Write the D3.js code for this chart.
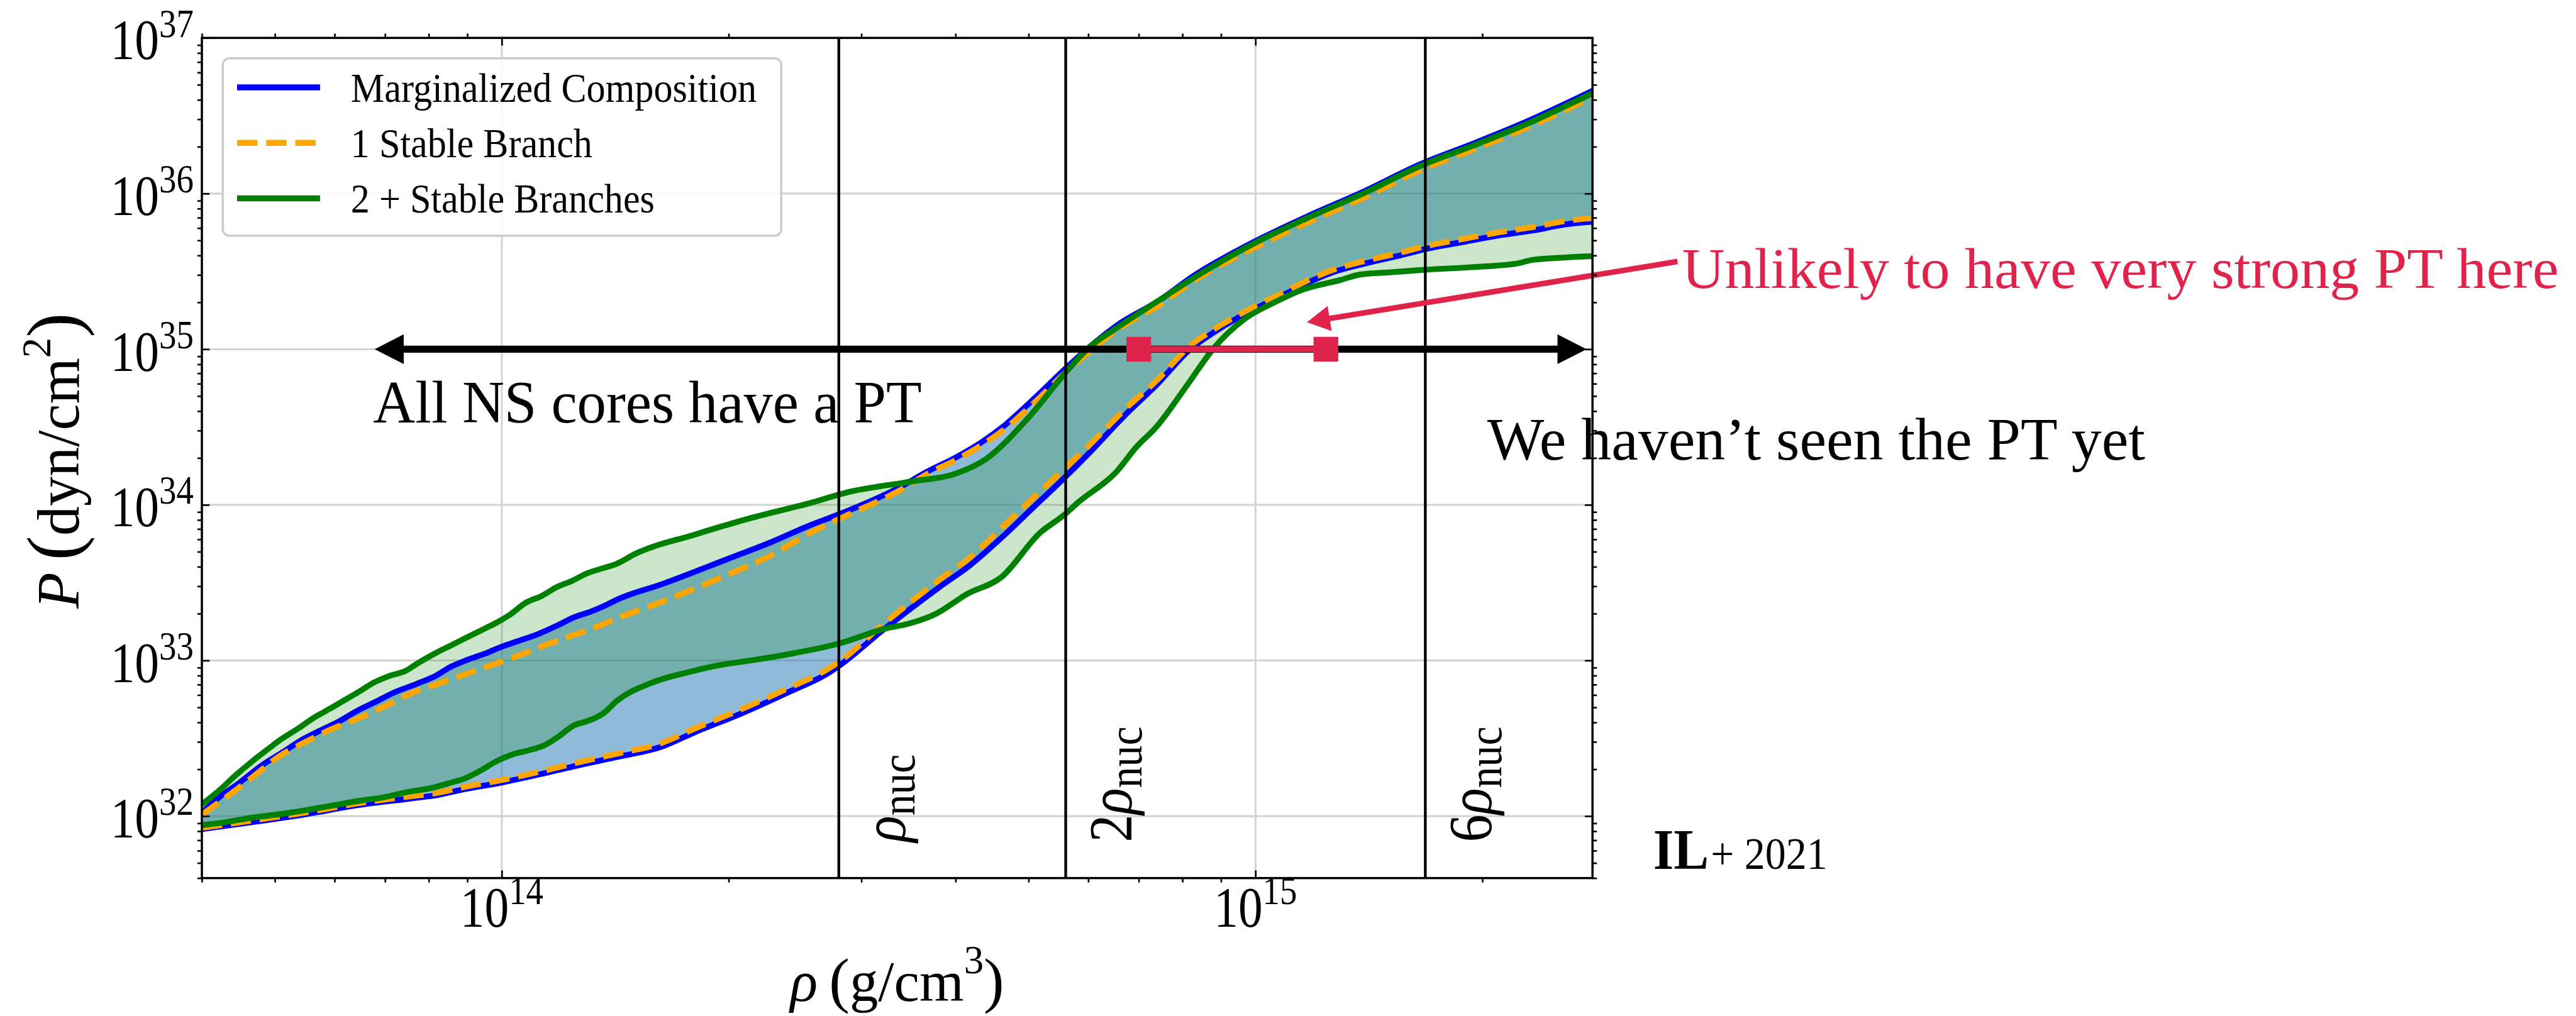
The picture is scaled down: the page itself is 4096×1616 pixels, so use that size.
<!DOCTYPE html>
<html>
<head>
<meta charset="utf-8">
<script src="https://cdn.jsdelivr.net/npm/d3@7"></script>
<style>
  html, body { margin: 0; padding: 0; background: #fff; overflow: hidden; }
  text { font-family: "Liberation Serif", "Times New Roman", serif; }
</style>
</head>
<body>
<svg id="chart"></svg>
<script>
// ---------------------------------------------------------------------------
// Pressure–density bands, values stored as [log10 rho (g/cm^3), log10 P (dyn/cm^2)]
// ---------------------------------------------------------------------------
const margUpperLog = [
  [13.602,32.020],[13.625,32.122],[13.650,32.208],[13.682,32.328],[13.710,32.413],[13.738,32.499],
  [13.759,32.550],[13.781,32.601],[13.809,32.679],[13.834,32.738],[13.855,32.790],[13.887,32.850],
  [13.912,32.901],[13.933,32.961],[13.954,33.004],[13.979,33.047],[14.000,33.089],[14.021,33.124],
  [14.046,33.166],[14.074,33.226],[14.096,33.278],[14.117,33.312],[14.138,33.355],[14.152,33.389],
  [14.214,33.493],[14.299,33.651],[14.359,33.764],[14.407,33.865],[14.450,33.944],[14.528,34.113],
  [14.565,34.215],[14.601,34.301],[14.637,34.404],[14.668,34.514],[14.704,34.672],[14.750,34.885],
  [14.781,35.019],[14.821,35.169],[14.868,35.300],[14.920,35.478],[14.996,35.685],[15.071,35.858],
  [15.145,36.016],[15.219,36.189],[15.294,36.331],[15.361,36.465],[15.448,36.662]
];
const margLowerLog = [
  [13.602,31.917],[13.667,31.960],[13.738,32.011],[13.809,32.071],[13.880,32.114],[13.915,32.136],
  [13.951,32.174],[14.000,32.216],[14.057,32.276],[14.110,32.336],[14.152,32.379],[14.212,32.446],
  [14.257,32.541],[14.317,32.658],[14.377,32.789],[14.436,32.928],[14.450,32.975],[14.504,33.189],
  [14.581,33.473],[14.622,33.615],[14.663,33.789],[14.704,33.978],[14.745,34.167],[14.781,34.341],
  [14.827,34.577],[14.868,34.767],[14.914,35.003],[14.944,35.106],[14.985,35.224],[15.031,35.334],
  [15.075,35.440],[15.100,35.490],[15.145,35.550],[15.190,35.600],[15.227,35.645],[15.279,35.692],
  [15.324,35.732],[15.368,35.763],[15.413,35.803],[15.448,35.819]
];
const oneUpperLog = [
  [13.602,32.010],[13.632,32.114],[13.667,32.242],[13.703,32.379],[13.738,32.473],[13.774,32.559],
  [13.809,32.627],[13.844,32.704],[13.880,32.790],[13.915,32.850],[13.951,32.910],[13.986,32.970],
  [14.021,33.029],[14.057,33.098],[14.092,33.158],[14.127,33.218],[14.152,33.269],[14.214,33.380],
  [14.299,33.550],[14.359,33.680],[14.407,33.815],[14.450,33.915],[14.528,34.093],[14.565,34.200],
  [14.601,34.285],[14.637,34.385],[14.668,34.490],[14.704,34.645],[14.750,34.860],[14.781,34.990],
  [14.821,35.140],[14.868,35.270],[14.920,35.445],[14.996,35.645],[15.071,35.818],[15.145,35.976],
  [15.219,36.150],[15.294,36.292],[15.361,36.425],[15.448,36.623]
];
const oneLowerLog = [
  [13.602,31.925],[13.667,31.970],[13.738,32.022],[13.809,32.082],[13.880,32.128],[13.915,32.150],
  [13.951,32.188],[14.000,32.232],[14.057,32.293],[14.110,32.355],[14.152,32.400],[14.212,32.470],
  [14.257,32.565],[14.317,32.685],[14.377,32.815],[14.436,32.955],[14.450,33.000],[14.504,33.225],
  [14.581,33.520],[14.622,33.665],[14.663,33.850],[14.704,34.040],[14.745,34.225],[14.781,34.390],
  [14.827,34.615],[14.868,34.795],[14.914,35.025],[14.944,35.125],[14.985,35.240],[15.031,35.350],
  [15.075,35.455],[15.100,35.505],[15.145,35.567],[15.190,35.618],[15.227,35.663],[15.279,35.712],
  [15.324,35.752],[15.368,35.784],[15.413,35.825],[15.448,35.842]
];
const twoUpperLog = [
  [13.602,32.075],[13.625,32.165],[13.646,32.259],[13.667,32.345],[13.692,32.439],[13.706,32.490],
  [13.731,32.567],[13.749,32.627],[13.774,32.696],[13.798,32.764],[13.813,32.807],[13.830,32.858],
  [13.851,32.901],[13.873,32.935],[13.887,32.978],[13.912,33.047],[13.933,33.098],[13.954,33.149],
  [13.979,33.209],[13.993,33.243],[14.011,33.295],[14.032,33.372],[14.053,33.415],[14.074,33.474],
  [14.092,33.509],[14.113,33.560],[14.135,33.594],[14.152,33.620],[14.177,33.685],[14.256,33.809],
  [14.335,33.921],[14.407,34.009],[14.458,34.080],[14.545,34.151],[14.601,34.199],[14.642,34.293],
  [14.699,34.562],[14.750,34.861],[14.781,35.019],[14.816,35.137],[14.877,35.330],[14.922,35.470],
  [14.996,35.675],[15.071,35.848],[15.145,36.005],[15.219,36.178],[15.294,36.318],[15.361,36.450],
  [15.448,36.647]
];
const twoLowerLog = [
  [13.602,31.942],[13.632,31.960],[13.667,31.989],[13.703,32.011],[13.738,32.037],[13.774,32.067],
  [13.809,32.097],[13.844,32.122],[13.873,32.153],[13.908,32.182],[13.933,32.216],[13.951,32.242],
  [13.972,32.293],[13.993,32.353],[14.014,32.396],[14.035,32.422],[14.057,32.456],[14.074,32.507],
  [14.096,32.584],[14.113,32.610],[14.135,32.661],[14.152,32.738],[14.198,32.855],[14.250,32.928],
  [14.294,32.975],[14.323,32.995],[14.383,33.043],[14.448,33.110],[14.509,33.205],[14.540,33.237],
  [14.576,33.300],[14.617,33.426],[14.663,33.536],[14.714,33.820],[14.745,33.931],[14.765,34.017],
  [14.816,34.215],[14.842,34.372],[14.868,34.498],[14.909,34.767],[14.944,35.003],[14.985,35.192],
  [15.026,35.303],[15.062,35.382],[15.113,35.445],[15.138,35.479],[15.182,35.495],[15.227,35.511],
  [15.286,35.527],[15.346,35.550],[15.368,35.574],[15.413,35.590],[15.448,35.598]
];

// axis ranges and ticks
const rhoDomain = [4e13, 2.8e15];
const pDomain = [4e31, 1e37];
const xTickExps = [14, 15];
const yTickExps = [32, 33, 34, 35, 36, 37];

// nuclear saturation density and its marked multiples
const rhoNuc = 2.8e14;
const nucMultiples = [1, 2, 6];
const nucPrefixes = ['', '2', '6'];
const nucLabelP = 6.8e31;

// legend
const legendLabels = ['Marginalized Composition', '1 Stable Branch', '2 + Stable Branches'];

// annotations (data coordinates)
const ptArrow = { rhoFrom: 6.78e13, rhoTo: 2.75e15, P: 1e35 };
const strongBar = { rhoFrom: 7.0e14, rhoTo: 1.24e15, P: 1e35 };
const redArrow = { from: [3.63e15, 3.66e35], to: [1.17e15, 1.49e35] };
const notes = [
  { text: 'All NS cores have a PT', rho: 6.75e13, P: 3.37e34, color: '#000', size: 110, len: 998 },
  { text: 'We haven\u2019t seen the PT yet', rho: 2.03e15, P: 1.96e34, color: '#000', size: 110, len: 1197 },
  { text: 'Unlikely to have very strong PT here', rho: 3.68e15, P: 2.47e35, color: '#e0234b', size: 105, len: 1595 }
];
const tagPos = { rho: 3.37e15, P: 4.58e31 };

// ---------------------------------------------------------------------------
const W = 4686, H = 1849;
const svg = d3.select('#chart')
  .attr('width', 4096).attr('height', 1616)
  .attr('viewBox', `0 0 ${W} ${H}`);

const plot = { left: 367, right: 2897, top: 69, bottom: 1598 };
const x = d3.scaleLog().domain(rhoDomain).range([plot.left, plot.right]);
const y = d3.scaleLog().domain(pDomain).range([plot.bottom, plot.top]);

const BLUE = '#0000ff', ORANGE = '#ffa500', GREEN = '#008000', RED = '#e0234b';
const CM_SQUEEZE = 0.86;

svg.append('defs').append('clipPath').attr('id', 'plotClip')
  .append('rect')
  .attr('x', plot.left).attr('y', plot.top)
  .attr('width', plot.right - plot.left).attr('height', plot.bottom - plot.top);

// grid at decades
const xMajor = xTickExps.map(e => Math.pow(10, e));
const yMajor = yTickExps.map(e => Math.pow(10, e));
const grid = svg.append('g').attr('stroke', '#d4d4d4').attr('stroke-width', 3.5);
grid.selectAll('.gx').data(xMajor).join('line')
  .attr('x1', d => x(d)).attr('x2', d => x(d))
  .attr('y1', plot.top).attr('y2', plot.bottom);
grid.selectAll('.gy').data(yMajor).join('line')
  .attr('y1', d => y(d)).attr('y2', d => y(d))
  .attr('x1', plot.left).attr('x2', plot.right);

// curves and bands
const line = d3.line()
  .x(d => x(Math.pow(10, d[0])))
  .y(d => y(Math.pow(10, d[1])))
  .curve(d3.curveMonotoneX);
function band(upper, lower) {
  const a = line(upper);
  const b = line(lower.slice().reverse());
  return a + 'L' + b.slice(1) + 'Z';
}

const plotG = svg.append('g').attr('clip-path', 'url(#plotClip)');
plotG.append('path').attr('d', band(margUpperLog, margLowerLog))
  .attr('fill', '#1f77b4').attr('fill-opacity', 0.5);
plotG.append('path').attr('d', band(twoUpperLog, twoLowerLog))
  .attr('fill', GREEN).attr('fill-opacity', 0.2);

const curves = [
  { data: margUpperLog, color: BLUE, dash: null },
  { data: margLowerLog, color: BLUE, dash: null },
  { data: oneUpperLog, color: ORANGE, dash: '37,16' },
  { data: oneLowerLog, color: ORANGE, dash: '37,16' },
  { data: twoUpperLog, color: GREEN, dash: null },
  { data: twoLowerLog, color: GREEN, dash: null }
];
plotG.selectAll('.curve').data(curves).join('path')
  .attr('d', d => line(d.data))
  .attr('fill', 'none')
  .attr('stroke', d => d.color)
  .attr('stroke-width', 10.5)
  .attr('stroke-dasharray', d => d.dash)
  .attr('stroke-linejoin', 'round');

// vertical lines at multiples of nuclear density
plotG.selectAll('.nuc').data(nucMultiples).join('line')
  .attr('x1', d => x(d * rhoNuc)).attr('x2', d => x(d * rhoNuc))
  .attr('y1', plot.top).attr('y2', plot.bottom)
  .attr('stroke', '#000').attr('stroke-width', 5);

nucMultiples.forEach((m, i) => {
  const t = svg.append('text')
    .attr('transform', `translate(${x(m * rhoNuc) + 120},${y(nucLabelP)}) rotate(-90) scale(0.9,1)`)
    .attr('font-size', 112).attr('fill', '#000');
  if (nucPrefixes[i]) t.append('tspan').text(nucPrefixes[i]);
  t.append('tspan').attr('font-style', 'italic').text('\u03c1');
  t.append('tspan').attr('font-size', 86).attr('dy', 18).text('nuc');
});

// double-headed black arrow along P = 1e35
function arrowHead(g, tipX, tipY, ux, uy, len, half, color) {
  const bx = tipX - ux * len, by = tipY - uy * len;
  const px = -uy, py = ux;
  g.append('polygon')
    .attr('points', [[tipX, tipY], [bx + px * half, by + py * half], [bx - px * half, by - py * half]]
      .map(p => p.join(',')).join(' '))
    .attr('fill', color);
}
const annG = svg.append('g');
{
  const x0 = x(ptArrow.rhoFrom), x1 = x(ptArrow.rhoTo), yy = y(ptArrow.P);
  annG.append('line').attr('x1', x0 + 50).attr('x2', x1 - 50).attr('y1', yy).attr('y2', yy)
    .attr('stroke', '#000').attr('stroke-width', 13);
  arrowHead(annG, x0, yy, -1, 0, 53, 27, '#000');
  arrowHead(annG, x1, yy, 1, 0, 53, 27, '#000');
}

// strong-transition exclusion bar
{
  const x0 = x(strongBar.rhoFrom), x1 = x(strongBar.rhoTo), yy = y(strongBar.P);
  annG.append('line').attr('x1', x0).attr('x2', x1).attr('y1', yy).attr('y2', yy)
    .attr('stroke', RED).attr('stroke-width', 11);
  annG.selectAll('.sq').data([strongBar.rhoFrom, strongBar.rhoTo]).join('rect')
    .attr('x', d => x(d) - 22.5).attr('y', yy - 22.5)
    .attr('width', 45).attr('height', 45).attr('fill', RED);
}

// red pointer arrow
{
  const fx = x(redArrow.from[0]), fy = y(redArrow.from[1]);
  const tx = x(redArrow.to[0]), ty = y(redArrow.to[1]);
  const L = Math.hypot(tx - fx, ty - fy);
  const ux = (tx - fx) / L, uy = (ty - fy) / L;
  annG.append('line').attr('x1', fx).attr('y1', fy)
    .attr('x2', tx - ux * 38).attr('y2', ty - uy * 38)
    .attr('stroke', RED).attr('stroke-width', 10);
  arrowHead(annG, tx, ty, ux, uy, 42, 23, RED);
}

// frame
svg.append('rect')
  .attr('x', plot.left).attr('y', plot.top)
  .attr('width', plot.right - plot.left).attr('height', plot.bottom - plot.top)
  .attr('fill', 'none').attr('stroke', '#000').attr('stroke-width', 4);

// ticks: majors point inward, minors outward
function minorTicks(dom) {
  const out = [];
  const e0 = Math.floor(Math.log10(dom[0])), e1 = Math.ceil(Math.log10(dom[1]));
  for (let e = e0; e <= e1; e++) {
    for (let m = 2; m <= 9; m++) {
      const v = m * Math.pow(10, e);
      if (v >= dom[0] * 0.999 && v <= dom[1] * 1.001) out.push(v);
    }
  }
  return out;
}
const xMinor = minorTicks(rhoDomain);
const yMinor = minorTicks(pDomain);

const axes = [
  { make: () => d3.axisBottom(x), tr: `translate(0,${plot.bottom})`, minor: xMinor, major: xMajor },
  { make: () => d3.axisTop(x), tr: `translate(0,${plot.top})`, minor: xMinor, major: xMajor },
  { make: () => d3.axisLeft(y), tr: `translate(${plot.left},0)`, minor: yMinor, major: yMajor },
  { make: () => d3.axisRight(y), tr: `translate(${plot.right},0)`, minor: yMinor, major: yMajor }
];
axes.forEach(a => {
  const g = svg.append('g').attr('transform', a.tr);
  g.append('g').call(a.make().tickValues(a.minor).tickSize(8).tickFormat(''));
  g.append('g').call(a.make().tickValues(a.major).tickSize(-14).tickFormat(''));
  g.selectAll('.domain').remove();
  g.selectAll('.tick line').attr('stroke', '#000').attr('stroke-width', 3);
});

// tick labels 10^n
function powerLabel(sel, exp) {
  sel.append('tspan').text('10');
  sel.append('tspan').attr('font-size', 73).attr('dy', -41).text(exp);
}
xTickExps.forEach(e => {
  const t = svg.append('text')
    .attr('transform', `translate(${x(Math.pow(10, e))},${plot.bottom + 88}) scale(${CM_SQUEEZE},1)`)
    .attr('text-anchor', 'middle').attr('font-size', 103);
  powerLabel(t, e);
});
yTickExps.forEach(e => {
  const t = svg.append('text')
    .attr('transform', `translate(${plot.left - 15},${y(Math.pow(10, e)) + 39}) scale(${CM_SQUEEZE},1)`)
    .attr('text-anchor', 'end').attr('font-size', 103);
  powerLabel(t, e);
});

// axis titles
{
  const t = svg.append('text')
    .attr('transform', `translate(${(plot.left + plot.right) / 2},1822)`)
    .attr('text-anchor', 'middle').attr('font-size', 104);
  t.append('tspan').attr('font-style', 'italic').text('\u03c1');
  t.append('tspan').text('\u2009');
  t.append('tspan').attr('font-size', 112).text('(');
  t.append('tspan').text('g/cm');
  t.append('tspan').attr('font-size', 72).attr('dy', -51).text('3');
  t.append('tspan').attr('font-size', 112).attr('dy', 51).text(')');
}
{
  const t = svg.append('text')
    .attr('transform', `translate(143,${(plot.top + plot.bottom) / 2 + 5}) rotate(-90)`)
    .attr('text-anchor', 'middle').attr('font-size', 108);
  t.append('tspan').attr('font-style', 'italic').text('P');
  t.append('tspan').text('\u2009');
  t.append('tspan').attr('font-size', 135).text('(');
  t.append('tspan').text('dyn/cm');
  t.append('tspan').attr('font-size', 74).attr('dy', -52).text('2');
  t.append('tspan').attr('font-size', 135).attr('dy', 52).text(')');
}

// legend
{
  const lg = svg.append('g');
  lg.append('rect').attr('x', 405).attr('y', 106).attr('width', 1016).attr('height', 323)
    .attr('rx', 12).attr('fill', '#fff').attr('fill-opacity', 0.85)
    .attr('stroke', '#cccccc').attr('stroke-width', 4);
  const handles = [
    { color: BLUE, dash: null },
    { color: ORANGE, dash: '37,16' },
    { color: GREEN, dash: null }
  ];
  legendLabels.forEach((label, i) => {
    const cy = 159 + i * 101;
    lg.append('line').attr('x1', 431).attr('x2', 582).attr('y1', cy).attr('y2', cy)
      .attr('stroke', handles[i].color).attr('stroke-width', 11)
      .attr('stroke-dasharray', handles[i].dash);
    lg.append('text')
      .attr('transform', `translate(638,${cy + 26}) scale(0.93,1)`)
      .attr('font-size', 74).text(label);
  });
}

// annotation texts
notes.forEach(n => {
  svg.append('text')
    .attr('x', x(n.rho)).attr('y', y(n.P))
    .attr('font-size', n.size).attr('fill', n.color)
    .attr('textLength', n.len).attr('lengthAdjust', 'spacingAndGlyphs')
    .text(n.text);
});

// reference tag
{
  const t = svg.append('text')
    .attr('transform', `translate(${x(tagPos.rho)},${y(tagPos.P)}) scale(0.92,1)`);
  t.append('tspan').attr('font-size', 104).attr('font-weight', 'bold').text('IL');
  t.append('tspan').attr('font-size', 82).attr('dx', 4).text('+ 2021');
}
</script>
</body>
</html>
